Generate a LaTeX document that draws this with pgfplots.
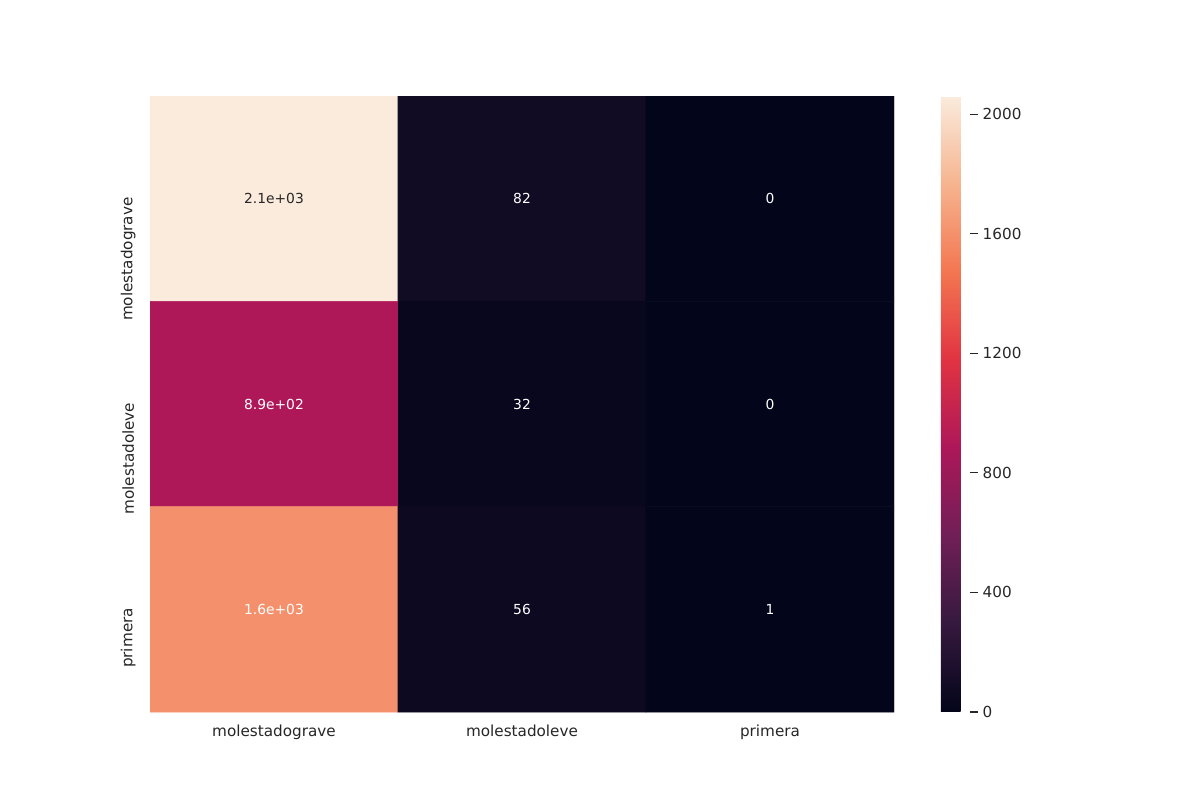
\documentclass[border=0pt]{standalone}
\usepackage{pgfplots}
\pgfplotsset{compat=1.18}
\usepackage{fontspec}
\setmainfont{DejaVu Sans}
\definecolor{txt}{HTML}{262626}
\pgfplotsset{colormap={rocket}{
 rgb255(0)=(3,5,26)
 rgb255(1)=(53,25,62)
 rgb255(2)=(112,31,87)
 rgb255(3)=(173,23,89)
 rgb255(4)=(225,51,66)
 rgb255(5)=(243,118,81)
 rgb255(6)=(246,180,143)
 rgb255(7)=(250,235,221)}}
\pgfplotstableread{
x y c
0 0 2061
1 0 82
2 0 0
0 1 890
1 1 32
2 1 0
0 2 1600
1 2 56
2 2 1
}\cells
\pgfplotstableread{
x y lab
0 0 2.1e+03
}\darklabels
\pgfplotstableread{
x y lab
1 0 82
2 0 0
0 1 8.9e+02
1 1 32
2 1 0
0 2 1.6e+03
1 2 56
2 2 1
}\lightlabels
\begin{document}
\begin{tikzpicture}
\path[use as bounding box] (0,0) rectangle (12in,8in);
\begin{axis}[
 at={(1.5in,0.88in)}, anchor=south west,
 scale only axis, width=7.44in, height=6.16in,
 colormap name=rocket,
 point meta min=0, point meta max=2061,
 xmin=-0.5, xmax=2.5, ymin=-0.5, ymax=2.5,
 y dir=reverse,
 axis line style={draw=none},
 major tick length=0pt,
 xtick={0,1,2}, ytick={0,1,2},
 xticklabels={molestadograve,molestadoleve,primera},
 yticklabels={molestadograve,molestadoleve,primera},
 ticklabel style={font=\fontsize{11}{13}\selectfont, text=txt},
 xticklabel style={yshift=-6pt},
 yticklabel style={rotate=90, anchor=east, yshift=15.8pt, xshift=4.5pt},
 colorbar,
 colorbar style={
   at={(parent axis.north east)}, anchor=north west, xshift=25.3pt,
   scale only axis, width=0.29in,
   axis line style={draw=none},
   ytick={0,400,800,1200,1600,2000},
   ytick pos=right, yticklabel pos=right,
   tick align=outside,
   major tick length=0.08in,
   tick style={draw=txt, line width=0.8pt},
   yticklabel style={font=\fontsize{11}{13}\selectfont, text=txt},
   /pgf/number format/assume math mode=true,
   /pgf/number format/1000 sep={},
 },
]
\addplot[matrix plot*, mesh/cols=3, point meta=explicit, shader=flat corner] table[x=x, y=y, meta=c] {\cells};
\addplot[only marks, mark=none, point meta=explicit symbolic,
  nodes near coords, nodes near coords align=center,
  every node near coord/.append style={font=\fontsize{10}{12}\selectfont, text=txt}]
  table[x=x, y=y, meta=lab] {\darklabels};
\addplot[only marks, mark=none, point meta=explicit symbolic,
  nodes near coords, nodes near coords align=center,
  every node near coord/.append style={font=\fontsize{10}{12}\selectfont, text=white}]
  table[x=x, y=y, meta=lab] {\lightlabels};
\end{axis}
\end{tikzpicture}
\end{document}
